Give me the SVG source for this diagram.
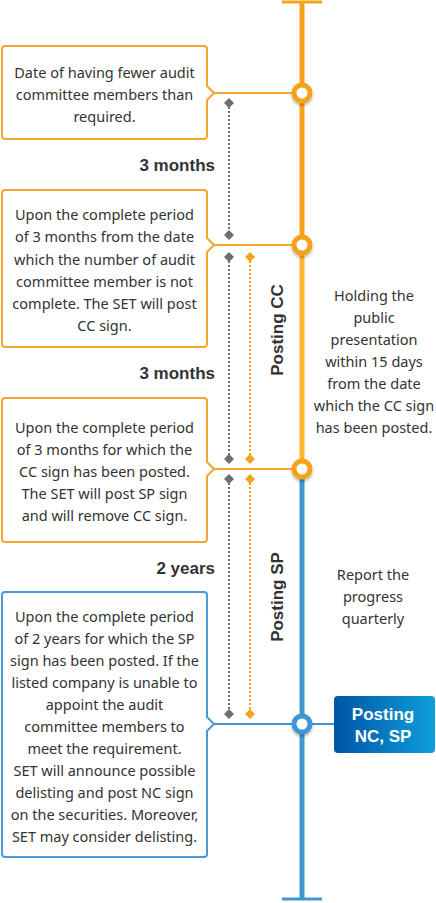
<svg xmlns="http://www.w3.org/2000/svg" width="436" height="903" viewBox="0 0 436 903">
<defs>
<style>
.box{fill:#fff;stroke-width:2}
.ob{stroke:#F7A531}
.bb{stroke:#4A9BD4}
.t{font-family:"Noto Sans","Open Sans",sans-serif;font-size:14.5px;fill:#333;text-anchor:middle}
.b{font-family:"Liberation Sans",Arial,sans-serif;font-weight:bold;font-size:17px;fill:#333}
.gd{stroke:#6D6E71;stroke-width:2;stroke-dasharray:2 2;fill:none}
.od{stroke:#F7A21B;stroke-width:2;stroke-dasharray:2 2;fill:none}
.gdm{fill:#6D6E71}
.odm{fill:#F7A21B}
</style>
<linearGradient id="g" x1="0" y1="0" x2="1" y2="0">
<stop offset="0" stop-color="#0055A6"/>
<stop offset="1" stop-color="#0D9EDC"/>
</linearGradient>
<filter id="sh" x="-50%" y="-50%" width="200%" height="200%">
<feDropShadow dx="0" dy="2" stdDeviation="1.5" flood-color="#000" flood-opacity="0.3"/>
</filter>
<path id="dm" d="M0 -5 L5 0 L0 5 L-5 0 Z"/>
</defs>

<g id="timeline">
<line x1="282" y1="2" x2="322" y2="2" stroke="#F7A21B" stroke-width="3"/>
<line x1="302" y1="2" x2="302" y2="245" stroke="#F7A21B" stroke-width="5"/>
<line x1="302" y1="245" x2="302" y2="470" stroke="#FDB731" stroke-width="5"/>
<line x1="302" y1="470" x2="302" y2="899" stroke="#4096D2" stroke-width="5"/>
<line x1="282" y1="899" x2="322" y2="899" stroke="#4096D2" stroke-width="3"/>
</g>

<g id="connectors">
<line x1="214" y1="93" x2="302" y2="93" stroke="#F7A531" stroke-width="2"/>
<line x1="214" y1="245" x2="302" y2="245" stroke="#F7A531" stroke-width="2"/>
<line x1="214" y1="469" x2="302" y2="469" stroke="#F7A531" stroke-width="2"/>
<line x1="214" y1="724" x2="336" y2="724" stroke="#4096D2" stroke-width="2"/>
<line class="gd" x1="229" y1="103" x2="229" y2="235"/>
<line class="gd" x1="229" y1="257" x2="229" y2="459"/>
<line class="gd" x1="229" y1="479" x2="229" y2="714"/>
<line class="od" x1="250" y1="257" x2="250" y2="459"/>
<line class="od" x1="250" y1="479" x2="250" y2="714"/>
<use href="#dm" class="gdm" x="229" y="103"/>
<use href="#dm" class="gdm" x="229" y="235"/>
<use href="#dm" class="gdm" x="229" y="257"/>
<use href="#dm" class="gdm" x="229" y="459"/>
<use href="#dm" class="gdm" x="229" y="479"/>
<use href="#dm" class="gdm" x="229" y="714"/>
<use href="#dm" class="odm" x="250" y="257"/>
<use href="#dm" class="odm" x="250" y="459"/>
<use href="#dm" class="odm" x="250" y="479"/>
<use href="#dm" class="odm" x="250" y="714"/>
</g>

<g id="circles" filter="url(#sh)">
<circle cx="302" cy="93" r="8" fill="#fff" stroke="#F7A21B" stroke-width="5"/>
<circle cx="302" cy="245" r="8" fill="#fff" stroke="#F7A21B" stroke-width="5"/>
<circle cx="302" cy="469" r="8" fill="#fff" stroke="#F7A21B" stroke-width="5"/>
<circle cx="302" cy="724" r="8" fill="#fff" stroke="#4096D2" stroke-width="5"/>
</g>

<g id="box1">
<path class="box ob" d="M5 46 H204 Q207 46 207 49 V86 L214 93 L207 100 V136 Q207 139 204 139 H5 Q2 139 2 136 V49 Q2 46 5 46 Z"/>
<text class="t" x="104.5" y="78">Date of having fewer audit</text>
<text class="t" x="104.5" y="100">committee members than</text>
<text class="t" x="104.5" y="122">required.</text>
</g>

<g id="box2">
<path class="box ob" d="M5 190 H204 Q207 190 207 193 V238 L214 245 L207 252 V344 Q207 347 204 347 H5 Q2 347 2 344 V193 Q2 190 5 190 Z"/>
<text class="t" x="104.5" y="220">Upon the complete period</text>
<text class="t" x="104.5" y="242">of 3 months from the date</text>
<text class="t" x="104.5" y="265">which the number of audit</text>
<text class="t" x="104.5" y="287">committee member is not</text>
<text class="t" x="104.5" y="309">complete. The SET will post</text>
<text class="t" x="104.5" y="331">CC sign.</text>
</g>

<g id="box3">
<path class="box ob" d="M5 398 H204 Q207 398 207 401 V462 L214 469 L207 476 V539 Q207 542 204 542 H5 Q2 542 2 539 V401 Q2 398 5 398 Z"/>
<text class="t" x="104.5" y="433">Upon the complete period</text>
<text class="t" x="104.5" y="455">of 3 months for which the</text>
<text class="t" x="104.5" y="477">CC sign has been posted.</text>
<text class="t" x="104.5" y="499">The SET will post SP sign</text>
<text class="t" x="104.5" y="521">and will remove CC sign.</text>
</g>

<g id="box4">
<path class="box bb" d="M5 592 H204 Q207 592 207 595 V717 L214 724 L207 731 V854 Q207 857 204 857 H5 Q2 857 2 854 V595 Q2 592 5 592 Z"/>
<text class="t" x="104.5" y="622">Upon the complete period</text>
<text class="t" x="104.5" y="644">of 2 years for which the SP</text>
<text class="t" x="104.5" y="666">sign has been posted. If the</text>
<text class="t" x="104.5" y="688">listed company is unable to</text>
<text class="t" x="104.5" y="710">appoint the audit</text>
<text class="t" x="104.5" y="732">committee members to</text>
<text class="t" x="104.5" y="754">meet the requirement.</text>
<text class="t" x="104.5" y="776">SET will announce possible</text>
<text class="t" x="104.5" y="798">delisting and post NC sign</text>
<text class="t" x="104.5" y="820">on the securities. Moreover,</text>
<text class="t" x="104.5" y="842">SET may consider delisting.</text>
</g>

<g id="labels">
<text class="b" x="215" y="171" text-anchor="end">3 months</text>
<text class="b" x="215" y="379" text-anchor="end">3 months</text>
<text class="b" x="215" y="574" text-anchor="end">2 years</text>
<text class="b" transform="translate(283 330) rotate(-90)" text-anchor="middle">Posting CC</text>
<text class="b" transform="translate(283 597) rotate(-90)" text-anchor="middle">Posting SP</text>
</g>

<g id="note-cc">
<text class="t" x="374" y="301">Holding the</text>
<text class="t" x="374" y="323">public</text>
<text class="t" x="374" y="345">presentation</text>
<text class="t" x="374" y="367">within 15 days</text>
<text class="t" x="374" y="389">from the date</text>
<text class="t" x="374" y="411">which the CC sign</text>
<text class="t" x="374" y="433">has been posted.</text>
</g>

<g id="note-sp">
<text class="t" x="373" y="580">Report the</text>
<text class="t" x="373" y="602">progress</text>
<text class="t" x="373" y="624">quarterly</text>
</g>

<g id="nc-sp">
<rect x="334" y="696" width="101" height="57" rx="4" fill="url(#g)"/>
<text class="b" x="383" y="720" text-anchor="middle" fill="#fff" style="fill:#fff">Posting</text>
<text class="b" x="383" y="742" text-anchor="middle" style="fill:#fff">NC, SP</text>
</g>
</svg>
